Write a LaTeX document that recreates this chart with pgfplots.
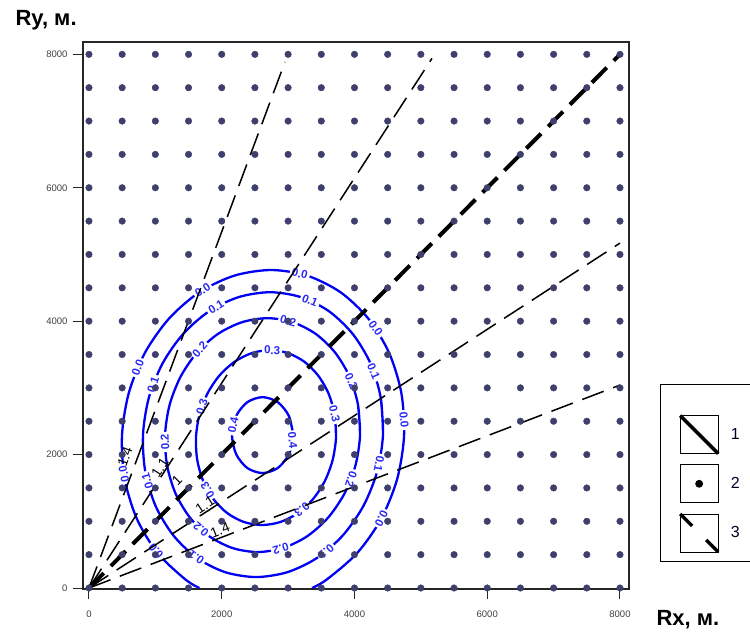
\documentclass[border=0pt]{standalone}
\usepackage{fontspec}
\setmainfont{Liberation Sans}
\usepackage{pgfplots}
\pgfplotsset{compat=1.18}
\definecolor{dotc}{HTML}{3F3F6E}
\definecolor{cblue}{HTML}{0000F5}
\definecolor{lblue}{HTML}{2A2AF5}
\tikzset{clab/.style={font=\bfseries\fontsize{11.5}{11.5}\selectfont, text=lblue, fill=white, inner xsep=2pt, inner ysep=1.5pt},
         llab/.style={font=\fontsize{14}{14}\selectfont, text=black, inner sep=0pt}}
\begin{document}
\begin{tikzpicture}
\useasboundingbox (0,0) rectangle (750pt,633pt);
\begin{axis}[
  at={(83pt,44pt)}, anchor=south west,
  scale only axis, width=546pt, height=547pt,
  xmin=-90, xmax=8136, ymin=-15, ymax=8185,
  clip=false,
  axis line style={line width=1.3pt, black!85},
  xtick={0,2000,4000,6000,8000}, ytick={0,2000,4000,6000,8000},
  tick align=outside, tick pos=left,
  major tick length=10pt, tick style={line width=1pt, black!85},
  /pgf/number format/assume math mode=true,
  /pgf/number format/1000 sep={},
  ticklabel style={font=\fontsize{9.5}{10}\selectfont, text=black!75},
  xticklabel shift=8pt, yticklabel shift=2pt,
  xlabel={Rx, м.}, ylabel={Ry, м.},
  xlabel style={at={(axis description cs:1.044,-0.0676)}, anchor=base west, font=\bfseries\fontsize{22}{22}\selectfont},
  ylabel style={at={(axis description cs:-0.130,1.0293)}, anchor=base west, rotate=-90, font=\bfseries\fontsize{22}{22}\selectfont},
  legend style={at={(1.0568,0.3748)}, anchor=north west, draw=black, line width=0.8pt,
     inner xsep=18pt, inner ysep=8pt, /tikz/row sep=9pt,
     font=\fontsize{16}{16}\selectfont, text=black!85!blue, nodes={inner sep=0pt},
     /tikz/every odd column/.append style={column sep=11pt}},
  legend cell align=left,
]
% contours
\addplot[cblue, line width=2.3pt, smooth, forget plot] coordinates {
(3360,0) (3581,126) (4039,522) (4402,1036) (4644,1636) (4747,2280) (4706,2924) (4522,3524) (4209,4038) (3789,4434) (3288,4682) (2742,4767) (2188,4682) (1663,4434) (1205,4038) (842,3524) (600,2924) (497,2280) (538,1636) (722,1036) (1035,522) (1455,126) (1664,0)};
\addplot[cblue, line width=2.3pt, smooth, forget plot] coordinates {
(4430,2299) (4396,2852) (4241,3367) (3974,3808) (3617,4148) (3191,4361) (2727,4434) (2255,4361) (1809,4148) (1418,3808) (1109,3367) (902,2852) (814,2299) (848,1746) (1003,1231) (1270,790) (1627,450) (2053,237) (2517,164) (2989,237) (3435,450) (3826,790) (4135,1231) (4342,1746) (4430,2299) (4396,2852)};
\addplot[cblue, line width=2.3pt, smooth, forget plot] coordinates {
(4084,2292) (4053,2746) (3925,3169) (3707,3531) (3415,3810) (3067,3985) (2690,4045) (2307,3985) (1945,3810) (1629,3531) (1381,3169) (1215,2746) (1146,2292) (1177,1838) (1305,1415) (1523,1053) (1815,774) (2163,599) (2540,539) (2923,599) (3285,774) (3601,1053) (3849,1415) (4015,1838) (4084,2292) (4053,2746)};
\addplot[cblue, line width=2.3pt, smooth, forget plot] coordinates {
(3722,2255) (3702,2595) (3611,2911) (3455,3182) (3247,3390) (2998,3521) (2727,3566) (2452,3521) (2191,3390) (1963,3182) (1783,2911) (1664,2595) (1612,2255) (1632,1915) (1723,1599) (1879,1328) (2087,1120) (2336,989) (2607,944) (2882,989) (3143,1120) (3371,1328) (3551,1599) (3670,1915) (3722,2255) (3702,2595)};
\addplot[cblue, line width=2.3pt, smooth, forget plot] coordinates {
(3075,2292) (3013,2577) (2845,2785) (2615,2861) (2385,2785) (2217,2577) (2155,2292) (2217,2007) (2385,1799) (2615,1723) (2845,1799) (3013,2007) (3075,2292) (3013,2577)};
% contour labels
\node[clab, rotate=-14] at (axis cs:3177,4712) {0.0};
\node[clab, rotate=33] at (axis cs:1713,4466) {0.0};
\node[clab, rotate=69] at (axis cs:735,3305) {0.0};
\node[clab, rotate=101] at (axis cs:526,1708) {0.0};
\node[clab, rotate=129] at (axis cs:1011,552) {0.0};
\node[clab, rotate=-54] at (axis cs:4319,3892) {0.0};
\node[clab, rotate=-85] at (axis cs:4748,2519) {0.0};
\node[clab, rotate=-116] at (axis cs:4407,1044) {0.0};
\node[clab, rotate=106] at (axis cs:878,1603) {0.1};
\node[clab, rotate=145] at (axis cs:1616,457) {0.1};
\node[clab, rotate=-140] at (axis cs:3574,550) {0.1};
\node[clab, rotate=-100] at (axis cs:4371,1863) {0.1};
\node[clab, rotate=-67] at (axis cs:4290,3241) {0.1};
\node[clab, rotate=-23] at (axis cs:3330,4308) {0.1};
\node[clab, rotate=31] at (axis cs:1915,4212) {0.1};
\node[clab, rotate=72] at (axis cs:967,3051) {0.1};
\node[clab, rotate=93] at (axis cs:1145,2189) {0.2};
\node[clab, rotate=139] at (axis cs:1689,876) {0.2};
\node[clab, rotate=-164] at (axis cs:2890,588) {0.2};
\node[clab, rotate=-109] at (axis cs:3949,1635) {0.2};
\node[clab, rotate=-66] at (axis cs:3952,3104) {0.2};
\node[clab, rotate=-15] at (axis cs:3001,4005) {0.2};
\node[clab, rotate=48] at (axis cs:1670,3575) {0.2};
\node[clab, rotate=-2] at (axis cs:2760,3565) {0.3};
\node[clab, rotate=-77] at (axis cs:3699,2610) {0.3};
\node[clab, rotate=-140] at (axis cs:3210,1171) {0.3};
\node[clab, rotate=121] at (axis cs:1788,1466) {0.3};
\node[clab, rotate=73] at (axis cs:1701,2716) {0.3};
\node[clab, rotate=78] at (axis cs:2171,2439) {0.4};
\node[clab, rotate=-84] at (axis cs:3070,2213) {0.4};
% grid of points
\pgfplotsinvokeforeach{0,500,1000,1500,2000,2500,3000,3500,4000,4500,5000,5500,6000,6500,7000,7500,8000}{
\addplot[only marks, mark=*, mark size=3.3pt, color=dotc, forget plot] coordinates {(0,#1) (500,#1) (1000,#1) (1500,#1) (2000,#1) (2500,#1) (3000,#1) (3500,#1) (4000,#1) (4500,#1) (5000,#1) (5500,#1) (6000,#1) (6500,#1) (7000,#1) (7500,#1) (8000,#1)};
}
% rays
\addplot[black, line width=1.5pt, dash pattern=on 23pt off 10pt, forget plot] coordinates {(0,0) (2953,7886)};
\addplot[black, line width=1.5pt, dash pattern=on 23pt off 10pt, forget plot] coordinates {(0,0) (5168,7940)};
\addplot[black, line width=1.5pt, dash pattern=on 23pt off 10pt, forget plot] coordinates {(0,0) (8000,5170)};
\addplot[black, line width=1.5pt, dash pattern=on 23pt off 10pt, forget plot] coordinates {(0,0) (8000,3042)};
\addplot[black, line width=4pt, dash pattern=on 21pt off 10pt, forget plot] coordinates {(0,0) (8000,8000)};
\node[llab, rotate=70] at (axis cs:542,1964) {1.4};
\node[llab, rotate=57] at (axis cs:1070,1799) {1.1};
\node[llab, rotate=45] at (axis cs:1326,1619) {1};
\node[llab, rotate=33] at (axis cs:1748,1244) {1.1};
\node[llab, rotate=21] at (axis cs:1974,869) {1.4};
% legend
\addlegendimage{empty legend}
\addlegendentry{\rule{0pt}{11pt}}
\addlegendimage{legend image code/.code={
  \draw[line width=0.8pt, black] (0pt,-19pt) rectangle (38pt,19pt);
  \draw[line width=3.5pt, black] (0pt,19pt) -- (38pt,-19pt);}}
\addlegendentry{1}
\addlegendimage{legend image code/.code={
  \draw[line width=0.8pt, black] (0pt,-19pt) rectangle (38pt,19pt);
  \fill[black] (19pt,0pt) circle (3.5pt);}}
\addlegendentry{2}
\addlegendimage{legend image code/.code={
  \draw[line width=0.8pt, black] (0pt,-19pt) rectangle (38pt,19pt);
  \draw[line width=3.5pt, black] (0pt,19pt) -- (12pt,7pt);
  \draw[line width=3.5pt, black] (26pt,-7pt) -- (38pt,-19pt);}}
\addlegendentry{3}
\end{axis}
\end{tikzpicture}
\end{document}
